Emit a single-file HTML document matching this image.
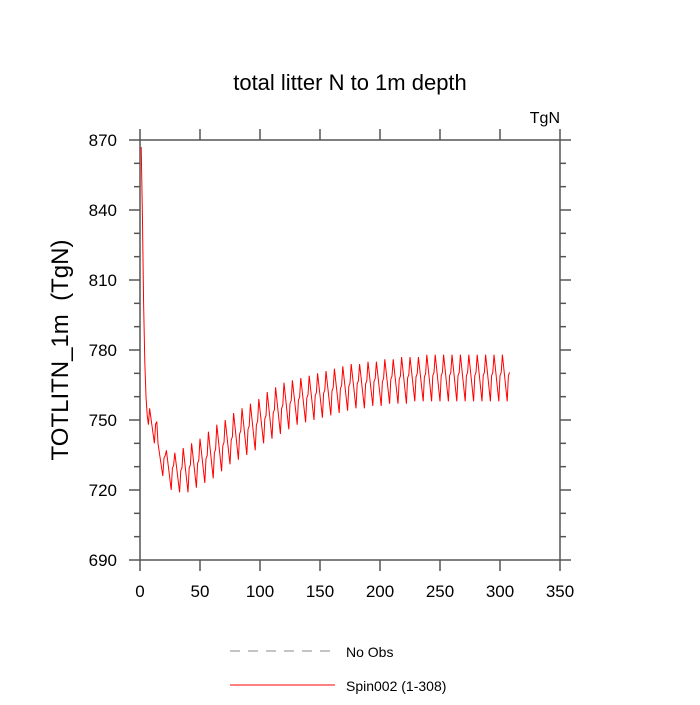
<!DOCTYPE html>
<html><head><meta charset="utf-8"><style>
body{margin:0;background:#fff}
svg text{font-family:"Liberation Sans",sans-serif;fill:#000}
</style></head><body>
<svg width="700" height="700" viewBox="0 0 700 700">
<text x="350" y="90" text-anchor="middle" font-size="22">total litter N to 1m depth</text>
<text x="560" y="123" text-anchor="end" font-size="16">TgN</text>
<text transform="translate(68,350) rotate(-90)" text-anchor="middle" font-size="24" xml:space="preserve" style="white-space:pre">TOTLITN_1m  (TgN)</text>
<g id="axes"></g>
<g id="series"></g>
<g>
<line x1="230" y1="651" x2="335" y2="651" stroke="#888" stroke-width="1" stroke-dasharray="10,8"/>
<text x="346" y="657" font-size="14">No Obs</text>
<line x1="230" y1="685" x2="335" y2="685" stroke="#f00" stroke-width="1"/>
<text x="346" y="691" font-size="14">Spin002 (1-308)</text>
</g>
</svg>
<script>
const xTicks=[0,50,100,150,200,250,300,350];
const yTicks=[690,720,750,780,810,840,870];
const initialYears=[1,2,3,4,5,6,7];
const initialValues=[867,838,800,775,760,752,748];
const cyclePeaks=[755,740,737,736,738,740,742,745,748,750,753,755,757,759,762,764,766,767,768,769,770,771,772,773,774,774,775,775,776,776,777,777,777,778,778,778,778,778,778,778,778,778,778];
const cycleTroughs=[740,726,720,719,719,721,723,725,728,731,733,735,737,740,742,744,746,748,749,750,751,752,753,754,755,755,756,756,757,757,757,758,758,758,758,758,758,758,758,758,758,758,758];
const cycleShape=[1,0.75,0.5,0.25,0,0.55,0.62];
const NS='http://www.w3.org/2000/svg';
const L=140,R=560,T=140,B=560;
const xs=v=>L+(v-0)/(350-0)*(R-L);
const ys=v=>B-(v-690)/(870-690)*(B-T);
const axes=document.getElementById('axes');
function mk(tag,attrs,parent){const e=document.createElementNS(NS,tag);for(const k in attrs)e.setAttribute(k,attrs[k]);parent.appendChild(e);return e;}
const frame=mk('rect',{x:L,y:T,width:R-L,height:B-T,fill:'none',stroke:'#555','stroke-width':1.5},axes);


xTicks.forEach(t=>{
  const x=xs(t);
  const a=mk('line',{x1:x,y1:B,x2:x,y2:B+11,stroke:'#555','stroke-width':1.5},axes);
  
  
  const b=mk('line',{x1:x,y1:T,x2:x,y2:T-11,stroke:'#555','stroke-width':1.5},axes);
  
  
  const tx=mk('text',{x:x,y:B+37,'text-anchor':'middle','font-size':17},axes);tx.textContent=t;
  
  
});
for(let v=690;v<=870;v+=10){
  const y=ys(v);const major=(v-690)%30===0;const len=major?11:6;
  const a=mk('line',{x1:L,y1:y,x2:L-len,y2:y,stroke:'#555','stroke-width':1.5},axes);
  
  
  const b=mk('line',{x1:R,y1:y,x2:R+len,y2:y,stroke:'#555','stroke-width':1.5},axes);
  
  
}
yTicks.forEach(t=>{
  const tx=mk('text',{x:117,y:ys(t)+6,'text-anchor':'end','font-size':17},axes);tx.textContent=t;
  
  
});
const pts=[];
initialYears.forEach((yr,i)=>pts.push([yr,initialValues[i]]));
cyclePeaks.forEach((p,k)=>{
  const tr=cycleTroughs[k];
  cycleShape.forEach((f,j)=>pts.push([8+7*k+j,tr+f*(p-tr)]));
});
const d=pts.map((p,i)=>(i?'L':'M')+xs(p[0]).toFixed(1)+','+ys(p[1]).toFixed(1)).join('');
const line=mk('path',{d:d,fill:'none',stroke:'#f00','stroke-width':1},document.getElementById('series'));


</script>
</body></html>
